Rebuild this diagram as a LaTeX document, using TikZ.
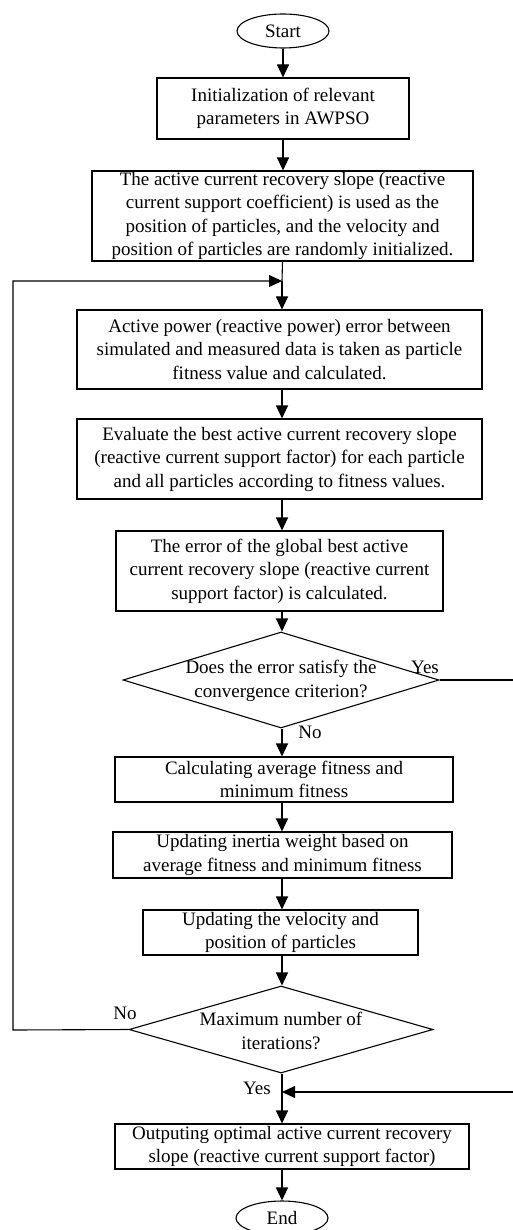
\documentclass[tikz,border=0pt]{standalone}
\usepackage{fontspec}
\setmainfont{Liberation Serif}
\usetikzlibrary{shapes.geometric,arrows.meta}
\begin{document}
\begin{tikzpicture}[x=1pt,y=-1pt,
  line width=1.1pt,
  every node/.style={font=\fontsize{19pt}{23.5pt}\selectfont, inner sep=0pt},
  proc/.style={draw, rectangle, align=center},
  term/.style={draw, ellipse, minimum width=92pt, minimum height=34pt},
  dec/.style={draw, diamond, inner sep=0pt},
  lab/.style={align=center},
  arr/.style={-{Triangle[length=13pt,width=12pt]}}
]
\useasboundingbox (0,0) rectangle (513,1230);

\node[term] (start) at (283,31) {Start};
\node[proc, minimum width=252pt, minimum height=61pt] (b1) at (283,108.5)
  {Initialization of relevant\\parameters in AWPSO};
\node[proc, minimum width=381pt, minimum height=90pt] (b2) at (282.5,216)
  {The active current recovery slope (reactive\\current support coefficient) is used as the\\position of particles, and the velocity and\\position of particles are randomly initialized.};
\node[proc, minimum width=405pt, minimum height=79pt] (b3) at (279.5,349.5)
  {Active power (reactive power) error between\\simulated and measured data is taken as particle\\fitness value and calculated.};
\node[proc, minimum width=405pt, minimum height=80pt] (b4) at (279.5,459)
  {Evaluate the best active current recovery slope\\(reactive current support factor) for each particle\\and all particles according to fitness values.};
\node[proc, minimum width=327pt, minimum height=80pt] (b5) at (279.5,571)
  {The error of the global best active\\current recovery slope (reactive current\\support factor) is calculated.};
\node[dec, minimum width=316pt, minimum height=96pt] (d1) at (281,680) {};
\node[lab] (d1t) at (281,681) {Does the error satisfy the\\convergence criterion?};
\node[proc, minimum width=338pt, minimum height=45pt] (b6) at (284,779.5)
  {Calculating average fitness and\\minimum fitness};
\node[proc, minimum width=339pt, minimum height=46pt] (b7) at (282.5,855)
  {Updating inertia weight based on\\average fitness and minimum fitness};
\node[proc, minimum width=275pt, minimum height=45pt] (b8) at (280.5,932.5)
  {Updating the velocity and\\position of particles};
\node[dec, minimum width=304pt, minimum height=87pt] (d2) at (281,1029.5) {};
\node[lab] (d2t) at (281,1031) {Maximum number of\\iterations?};
\node[proc, minimum width=354pt, minimum height=45pt] (b9) at (292,1146.5)
  {Outputing optimal active current recovery\\slope (reactive current support factor)};
\node[term] (end) at (282,1218) {End};

\coordinate (loopin) at (282,281);
\coordinate (loopL1) at (13,1030);
\coordinate (loopL2) at (13,281);
\coordinate (yesR1) at (514.5,680);
\coordinate (yesR2) at (514.5,1092);
\coordinate (yesin) at (282,1092);

\draw[arr] (start.south) -- (start.south |- b1.north);
\draw[arr] (b1.south) -- (b1.south |- b2.north);
\draw (b2.south) -- (loopin);
\draw[arr] (loopin) -- (loopin |- b3.north);
\draw[arr] (loopin |- b3.south) -- (loopin |- b4.north);
\draw[arr] (loopin |- b4.south) -- (loopin |- b5.north);
\draw[arr] (loopin |- b5.south) -- (loopin |- d1.north);
\draw[arr] (loopin |- d1.south) -- (loopin |- b6.north);
\draw[arr] (loopin |- b6.south) -- (loopin |- b7.north);
\draw[arr] (loopin |- b7.south) -- (loopin |- b8.north);
\draw[arr] (loopin |- b8.south) -- (loopin |- d2.north);
\draw[arr] (loopin |- d2.south) -- (loopin |- b9.north);
\draw[arr] (loopin |- b9.south) -- (end.north);
\draw[arr] (d2.west) -- (loopL1) -- (loopL2) -- (loopin);
\draw[arr] (d1.east) -- (yesR1) -- (yesR2) -- (yesin);

\node (yes1) at (425,667) {Yes};
\node (no1) at (310,732) {No};
\node (no2) at (125,1013) {No};
\node (yes2) at (257,1088) {Yes};
\end{tikzpicture}
\end{document}
